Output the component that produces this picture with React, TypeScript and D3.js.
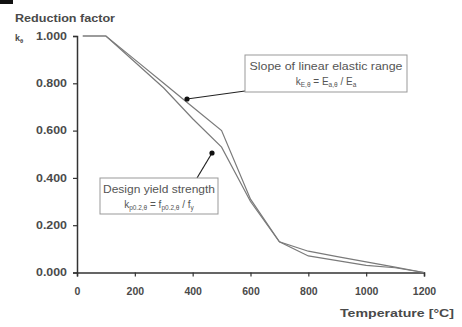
import { useEffect, useRef } from 'react';
import * as d3 from 'd3';

const temperatures = [20, 100, 200, 300, 400, 500, 600, 700, 800, 900, 1000, 1100, 1200];
const slopeElastic = [1.0, 1.0, 0.9, 0.8, 0.7, 0.6, 0.31, 0.13, 0.09, 0.0675, 0.045, 0.0225, 0.0];
const yieldStrength = [1.0, 1.0, 0.89, 0.78, 0.65, 0.53, 0.3, 0.13, 0.07, 0.05, 0.03, 0.02, 0.0];
const xTicks = [0, 200, 400, 600, 800, 1000, 1200];
const yTicks = [0, 0.2, 0.4, 0.6, 0.8, 1.0];

const W = 462;
const H = 327;

export default function App() {
  const svgRef = useRef<SVGSVGElement>(null);

  useEffect(() => {
    if (!svgRef.current) return;
    const svg = d3.select(svgRef.current);
    svg.selectAll('*').remove();

    const x = d3.scaleLinear().domain([0, 1200]).range([77, 424]);
    const y = d3.scaleLinear().domain([0, 1]).range([272.5, 36]);
    const font = 'Liberation Sans, Arial, sans-serif';
    const txt = '#4a4a4a';

    // stray mark in the scan corner
    svg.append('rect').attr('x', 0).attr('y', 0).attr('width', 13).attr('height', 4).attr('fill', '#111');

    // Axis title
    svg.append('text')
      .attr('x', 15).attr('y', 21.5)
      .attr('textLength', 100).attr('lengthAdjust', 'spacingAndGlyphs')
      .style('font-family', font).style('font-size', '11px').style('font-weight', 'bold')
      .style('fill', txt)
      .text('Reduction factor');

    svg.append('text')
      .attr('x', 15).attr('y', 41)
      .style('font-family', font).style('font-size', '9px').style('font-weight', 'bold')
      .style('fill', txt)
      .call((t) => {
        t.append('tspan').text('k');
        t.append('tspan').attr('dy', 2).style('font-size', '6px').text('θ');
      });

    // Y axis
    const yAxis = svg.append('g')
      .attr('transform', `translate(${x(0)},0)`)
      .call(d3.axisLeft(y).tickValues(yTicks).tickSize(4).tickPadding(6).tickFormat(d3.format('.3f')));
    yAxis.select('.domain').attr('stroke', '#333').attr('stroke-width', 1.5);
    yAxis.selectAll('.tick line').attr('stroke', '#333').attr('stroke-width', 1.2);
    yAxis.selectAll('text')
      .attr('textLength', 31).attr('lengthAdjust', 'spacingAndGlyphs')
      .style('font-family', font).style('font-size', '10.5px').style('font-weight', 'bold').style('fill', txt);

    // X axis
    const xAxis = svg.append('g')
      .attr('transform', `translate(0,${y(0)})`)
      .call(d3.axisBottom(x).tickValues(xTicks).tickSize(4).tickPadding(11).tickFormat(d3.format('d')));
    xAxis.select('.domain').attr('stroke', '#333').attr('stroke-width', 1.5);
    xAxis.selectAll('.tick line').attr('stroke', '#333').attr('stroke-width', 1.2);
    xAxis.selectAll('text')
      .style('font-family', font).style('font-size', '10.5px').style('font-weight', 'bold').style('fill', txt);

    svg.append('text')
      .attr('x', 454).attr('y', 317)
      .attr('text-anchor', 'end')
      .attr('textLength', 114).attr('lengthAdjust', 'spacingAndGlyphs')
      .style('font-family', font).style('font-size', '11.5px').style('font-weight', 'bold')
      .style('fill', txt)
      .text('Temperature [°C]');

    // Curves
    const line = d3.line<number>()
      .x((_, i) => x(temperatures[i]))
      .y((d) => y(d));
    for (const series of [slopeElastic, yieldStrength]) {
      svg.append('path')
        .datum(series)
        .attr('d', line)
        .attr('fill', 'none')
        .attr('stroke', '#7a7a7a')
        .attr('stroke-width', 1.2);
    }

    // Annotations
    const notes = [
      {
        box: [245, 55, 162, 37],
        line1: 'Slope of linear elastic range',
        len1: 153,
        sub: [['k', 'E,θ'], [' = E', 'a,θ'], [' / E', 'a']],
        from: [245, 91],
        to: [187, 99],
      },
      {
        box: [100, 178, 118, 36],
        line1: 'Design yield strength',
        len1: 112,
        sub: [['k', 'p0.2,θ'], [' = f', 'p0.2,θ'], [' / f', 'y']],
        from: [197, 178],
        to: [212, 153],
      },
    ];

    for (const n of notes) {
      const [bx, by, bw, bh] = n.box;
      svg.append('line')
        .attr('x1', n.from[0]).attr('y1', n.from[1])
        .attr('x2', n.to[0]).attr('y2', n.to[1])
        .attr('stroke', '#222').attr('stroke-width', 1.2);
      svg.append('circle')
        .attr('cx', n.to[0]).attr('cy', n.to[1]).attr('r', 2.6).attr('fill', '#111');
      svg.append('rect')
        .attr('x', bx).attr('y', by).attr('width', bw).attr('height', bh)
        .attr('fill', 'white').attr('stroke', '#999').attr('stroke-width', 1);
      svg.append('text')
        .attr('x', bx + bw / 2).attr('y', by + 14.5)
        .attr('text-anchor', 'middle')
        .attr('textLength', n.len1).attr('lengthAdjust', 'spacingAndGlyphs')
        .style('font-family', font).style('font-size', '11px').style('fill', '#555')
        .text(n.line1);
      const t2 = svg.append('text')
        .attr('x', bx + bw / 2).attr('y', by + 30)
        .attr('text-anchor', 'middle')
        .style('font-family', font).style('font-size', '10px').style('fill', '#555');
      n.sub.forEach(([main, s], i) => {
        t2.append('tspan').attr('dy', i === 0 ? 0 : -2).text(main);
        t2.append('tspan').attr('dy', 2).style('font-size', '6.5px').text(s);
      });
    }
  }, []);

  return (
    <svg
      ref={svgRef}
      width={W}
      height={H}
      style={{ position: 'absolute', left: 0, top: 0, background: 'white' }}
    />
  );
}
